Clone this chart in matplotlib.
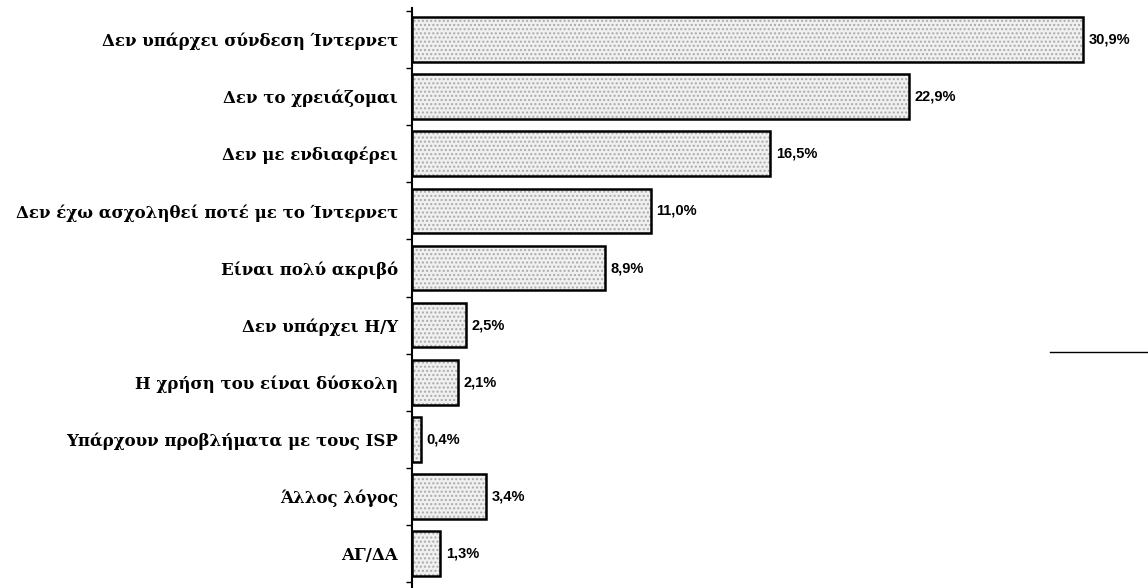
import numpy as np
import matplotlib
matplotlib.use('Agg')
import matplotlib.pyplot as plt
from matplotlib.lines import Line2D

# Reasons for not having internet access (%)
reasons = [
    'Δεν υπάρχει σύνδεση Ίντερνετ',
    'Δεν το χρειάζομαι',
    'Δεν με ενδιαφέρει',
    'Δεν έχω ασχοληθεί ποτέ με το Ίντερνετ',
    'Είναι πολύ ακριβό',
    'Δεν υπάρχει Η/Υ',
    'Η χρήση του είναι δύσκολη',
    'Υπάρχουν προβλήματα με τους ISP',
    'Άλλος λόγος',
    'ΑΓ/ΔΑ',
]
shares = [30.9, 22.9, 16.5, 11.0, 8.9, 2.5, 2.1, 0.4, 3.4, 1.3]

fig = plt.figure(figsize=(11.48, 5.88), dpi=100)
ax = fig.add_axes([412 / 1148, 0.0, 727.5 / 1148, 580 / 588])

pos = np.arange(len(reasons))
# stippled grey fill, then a black outline on top
ax.barh(pos, shares, height=0.78, color='#f0f0f0', hatch='....',
        edgecolor='#aaaaaa', linewidth=0)
ax.barh(pos, shares, height=0.78, fill=False, edgecolor='black', linewidth=1.8)

for y, v in zip(pos, shares):
    ax.annotate(f'{v:.1f}%'.replace('.', ','), (v, y), xytext=(4, 0),
                textcoords='offset points', va='center', ha='left',
                fontsize=10.5, fontweight='bold', family='Liberation Sans')

ax.set_xlim(0, 33.5)
ax.set_ylim(len(reasons) - 0.4, -0.55)

ax.set_yticks(pos)
ax.set_yticklabels(reasons, family='DejaVu Serif', fontweight='bold', fontsize=12)
ax.tick_params(axis='y', which='major', length=0, pad=10)
ax.set_yticks(np.arange(len(reasons) + 1) - 0.5, minor=True)
ax.tick_params(axis='y', which='minor', length=4, width=1, direction='out')

ax.set_xticks([])
for side in ['top', 'right', 'bottom']:
    ax.spines[side].set_visible(False)
ax.spines['left'].set_linewidth(1.5)

# short rule at the right margin
fig.add_artist(Line2D([1050 / 1148, 1.0], [1 - 352 / 588] * 2,
                      transform=fig.transFigure, color='black', linewidth=1))

fig.savefig('out.png', dpi=100)
